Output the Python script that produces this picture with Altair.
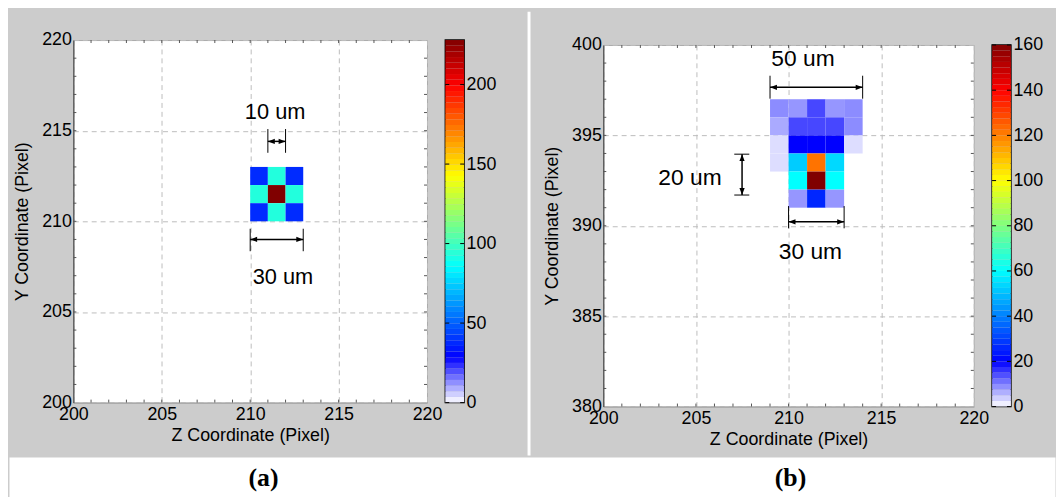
import altair as alt
import pandas as pd

FONT = "Liberation Sans"

# ---------------- Panel (a) data ----------------
A_Z = [210, 211, 212, 210, 211, 212, 210, 211, 212]
A_Y = [212, 212, 212, 211, 211, 211, 210, 210, 210]
A_V = [38, 93, 38, 93, 228, 93, 38, 93, 38]
A_CMAX = 228
A_CTICKS = [0, 50, 100, 150, 200]
A_XTICKS = [200, 205, 210, 215, 220]
A_YTICKS = [200, 205, 210, 215, 220]

A_TXT = ["10 um", "30 um"]
A_TXT_Z = [211.41, 211.85]
A_TXT_Y = [216.05, 206.95]
A_EXT_Z = [211, 212, 210, 213]
A_EXT_Y1 = [215.09, 215.09, 209.59, 209.59]
A_EXT_Y2 = [213.78, 213.78, 208.35, 208.35]
A_ARR_Z1 = [211, 210]
A_ARR_Z2 = [212, 213]
A_ARR_Y = [214.41, 209.0]

# ---------------- Panel (b) data ----------------
B_Z = [209, 210, 211, 212, 213,
       209, 210, 211, 212, 213,
       209, 210, 211, 212, 213,
       209, 210, 211, 212,
       210, 211, 212,
       210, 211, 212]
B_Y = [396] * 5 + [395] * 5 + [394] * 5 + [393] * 4 + [392] * 3 + [391] * 3
B_V = [9.0, 8.2, 14.4, 8.2, 9.0,
       6.7, 14.4, 14.4, 14.4, 9.0,
       2.7, 20.0, 20.0, 20.0, 2.7,
       2.7, 52, 122, 54,
       60, 160, 60,
       8.2, 26, 8.2]
B_CMAX = 160
B_CTICKS = [0, 20, 40, 60, 80, 100, 120, 140, 160]
B_XTICKS = [200, 205, 210, 215, 220]
B_YTICKS = [380, 385, 390, 395, 400]

B_TXT = ["50 um", "20 um", "30 um"]
B_TXT_Z = [210.78, 204.68, 211.18]
B_TXT_Y = [399.22, 392.65, 388.54]
B_EXT_Z = [209, 214, 210, 213]
B_EXT_Y1 = [398.3, 398.3, 391.09, 391.09]
B_EXT_Y2 = [397.03, 397.03, 389.86, 389.86]
B_ARR_Z1 = [209, 210]
B_ARR_Z2 = [214, 213]
B_ARR_Y = [397.66, 390.22]
B_VARR_Z = [207.49]
B_VARR_Y1 = [393.96]
B_VARR_Y2 = [391.70]
B_CAP_Z1 = [207.07, 207.07]
B_CAP_Z2 = [207.88, 207.88]
B_CAP_Y = [393.96, 391.70]

PANEL_LABELS = ["(a)", "(b)"]

JET = ["#ffffff", "#0000ff", "#00ffff", "#ffff00", "#ff0000", "#800000"]
JET_STOPS = [0, 1 / 8, 3 / 8, 5 / 8, 7 / 8, 1]

RIGHT = "M0,0L-2,-0.75L-2,0.75Z"
LEFT = "M0,0L2,-0.75L2,0.75Z"
UP = "M0,0L-0.75,2L0.75,2Z"
DOWN = "M0,0L-0.75,-2L0.75,-2Z"


def sc(dom):
    return alt.Scale(domain=dom, nice=False, zero=False)


def cscale(cmax):
    return alt.Scale(domain=[s * cmax for s in JET_STOPS], range=JET, interpolate="rgb")


def heads(z, y, shape):
    return alt.Chart(pd.DataFrame({"z": z, "y": y})).mark_point(
        shape=shape, filled=True, size=49, color="black", opacity=1
    )


def heat(zs, ys, vs, cmax, xt, yt, w, h, txt, tz, ty, ez, ey1, ey2, az1, az2, ay,
         fs, varr=None):
    X = alt.X("z:Q", scale=sc([xt[0], xt[-1]]),
              axis=alt.Axis(values=xt, title="Z Coordinate (Pixel)", grid=True,
                            gridDash=[5, 4], gridColor="#bcbcbc", ticks=False, tickSize=0,
                            domainColor="#a0a0a0", labelFlush=False, labelOverlap=False,
                            labelPadding=3, titlePadding=3))
    Y = alt.Y("y:Q", scale=sc([yt[0], yt[-1]]),
              axis=alt.Axis(values=yt, title="Y Coordinate (Pixel)", grid=True,
                            gridDash=[5, 4], gridColor="#bcbcbc", ticks=False, tickSize=0,
                            domainColor="#333333", labelFlush=False, labelOverlap=False,
                            labelPadding=2, titlePadding=10))
    # small inward tick marks along the frame (one per pixel unit)
    xminor = pd.DataFrame({"z": list(range(xt[0] + 1, xt[-1]))})
    yminor = pd.DataFrame({"y": list(range(yt[0] + 1, yt[-1]))})
    tk = dict(color="#555555", strokeWidth=1)
    tb = alt.Chart(xminor).mark_rule(**tk).encode(x=X, y=alt.value(h), y2=alt.value(h - 3))
    tt = alt.Chart(xminor).mark_rule(**tk).encode(x=X, y=alt.value(0), y2=alt.value(3))
    tl = alt.Chart(yminor).mark_rule(**tk).encode(y=Y, x=alt.value(0), x2=alt.value(3))
    tr = alt.Chart(yminor).mark_rule(**tk).encode(y=Y, x=alt.value(w - 3), x2=alt.value(w))

    cells = pd.DataFrame({"z": zs, "y": ys, "v": vs})
    rect = alt.Chart(cells).transform_calculate(
        z2="datum.z + 1", y2="datum.y + 1"
    ).mark_rect().encode(
        x=X, x2="z2:Q", y=Y, y2="y2:Q",
        color=alt.Color("v:Q", scale=cscale(cmax), legend=None),
    )
    ext = alt.Chart(pd.DataFrame({"z": ez, "y": ey1, "y2": ey2})).mark_rule(
        color="black", strokeWidth=1).encode(x=X, y=Y, y2="y2:Q")
    arr = alt.Chart(pd.DataFrame({"z": az1, "z2": az2, "y": ay})).mark_rule(
        color="black", strokeWidth=1.5).encode(x=X, x2="z2:Q", y=Y)
    hl = heads(az1, ay, LEFT).encode(x=X, y=Y)
    hr = heads(az2, ay, RIGHT).encode(x=X, y=Y)
    text = alt.Chart(pd.DataFrame({"z": tz, "y": ty, "label": txt})).mark_text(
        font=FONT, fontSize=fs, color="black").encode(x=X, y=Y, text="label:N")
    layers = [rect, tb, tt, tl, tr, ext, arr, hl, hr]
    if varr is not None:
        vz, vy1, vy2, cz1, cz2, cy = varr
        vline = alt.Chart(pd.DataFrame({"z": vz, "y": vy1, "y2": vy2})).mark_rule(
            color="black", strokeWidth=1.5).encode(x=X, y=Y, y2="y2:Q")
        caps = alt.Chart(pd.DataFrame({"z": cz1, "z2": cz2, "y": cy})).mark_rule(
            color="black", strokeWidth=1).encode(x=X, x2="z2:Q", y=Y)
        hu = heads(vz, vy1, UP).encode(x=X, y=Y)
        hd = heads(vz, vy2, DOWN).encode(x=X, y=Y)
        layers += [vline, caps, hu, hd]
    layers.append(text)
    return alt.layer(*layers).properties(
        width=w, height=h,
        view=alt.ViewBackground(fill="white", stroke="#aaaaaa"),
    )


CBW = 19


def cbar(cmax, ticks, h, pad_top):
    n = 64
    step = cmax / n
    lv = pd.DataFrame({"lo": [i * step for i in range(n)]})
    lv["hi"] = lv["lo"] + step
    lv["mid"] = lv["lo"] + step / 2
    vals = ticks + ([cmax] if pad_top else [])
    Yc = alt.Y("lo:Q", scale=sc([0, cmax]),
               axis=alt.Axis(orient="right", values=vals, title=None, grid=False,
                             ticks=False, tickSize=0, domain=False, labelPadding=2,
                             labelOverlap=False, labelFlush=False,
                             labelExpr="datum.value > %s ? ' ' : datum.label" % ticks[-1]))
    bar = alt.Chart(lv).mark_rect().encode(
        x=alt.value(0), x2=alt.value(CBW), y=Yc, y2="hi:Q",
        color=alt.Color("mid:Q", scale=cscale(cmax), legend=None),
    )
    td = pd.DataFrame({"lo": ticks})
    t1 = alt.Chart(td).mark_rule(color="black", strokeWidth=1).encode(
        y=Yc, x=alt.value(0), x2=alt.value(4))
    t2 = alt.Chart(td).mark_rule(color="black", strokeWidth=1).encode(
        y=Yc, x=alt.value(CBW - 4), x2=alt.value(CBW))
    return alt.layer(bar, t1, t2).properties(
        width=CBW, height=h,
        view=alt.ViewBackground(stroke="black", strokeWidth=1.5),
    )


def spacer(w, h, fill=None):
    c = alt.Chart(pd.DataFrame({"s": [0]})).mark_rect(opacity=0).encode(
        x=alt.value(0), x2=alt.value(1), y=alt.value(0), y2=alt.value(1)
    ).properties(width=w, height=h)
    if fill:
        c = c.properties(view=alt.ViewBackground(fill=fill, stroke="transparent"))
    return c


heatA = heat(A_Z, A_Y, A_V, A_CMAX, A_XTICKS, A_YTICKS, 357, 366,
             A_TXT, A_TXT_Z, A_TXT_Y, A_EXT_Z, A_EXT_Y1, A_EXT_Y2,
             A_ARR_Z1, A_ARR_Z2, A_ARR_Y, 22)
cbarA = cbar(A_CMAX, A_CTICKS, 366, True)

heatB = heat(B_Z, B_Y, B_V, B_CMAX, B_XTICKS, B_YTICKS, 374, 365,
             B_TXT, B_TXT_Z, B_TXT_Y, B_EXT_Z, B_EXT_Y1, B_EXT_Y2,
             B_ARR_Z1, B_ARR_Z2, B_ARR_Y, 23,
             varr=(B_VARR_Z, B_VARR_Y1, B_VARR_Y2, B_CAP_Z1, B_CAP_Z2, B_CAP_Y))
cbarB = cbar(B_CMAX, B_CTICKS, 365, False)

panelA = alt.vconcat(
    spacer(1, 18),
    alt.hconcat(heatA, cbarA, spacing=0.5).resolve_scale(color="independent"),
    spacing=0,
).resolve_scale(color="independent")
panelB = alt.vconcat(
    spacer(1, 23),
    alt.hconcat(heatB, cbarB, spacing=0.5).resolve_scale(color="independent"),
    spacing=0,
).resolve_scale(color="independent")

gap = spacer(3, 448, fill="white")

row1 = alt.hconcat(
    spacer(3, 1), panelA, spacer(27, 1), gap, spacer(10, 1), panelB, spacing=0
).resolve_scale(color="independent")

labA = alt.Chart(pd.DataFrame({"t": [PANEL_LABELS[0]]})).mark_text(
    font="Liberation Serif", fontWeight="bold", fontSize=26, color="black"
).encode(text="t:N", x=alt.value(257), y=alt.value(21))
labB = alt.Chart(pd.DataFrame({"t": [PANEL_LABELS[1]]})).mark_text(
    font="Liberation Serif", fontWeight="bold", fontSize=26, color="black"
).encode(text="t:N", x=alt.value(789), y=alt.value(21))
labels = alt.layer(labA, labB).properties(
    width=1056, height=41,
    view=alt.ViewBackground(fill="white", stroke="transparent"),
)

chart = alt.vconcat(row1, labels, spacing=0).resolve_scale(
    color="independent"
).properties(
    background="#cccccc", padding=0
).configure_view(
    stroke="transparent"
).configure_axis(
    labelFont=FONT, titleFont=FONT, labelFontSize=18, titleFontSize=18,
    titleFontWeight="normal", labelColor="black", titleColor="black",
)

chart.save("out.html", embed_options={"renderer": "svg", "actions": False})
